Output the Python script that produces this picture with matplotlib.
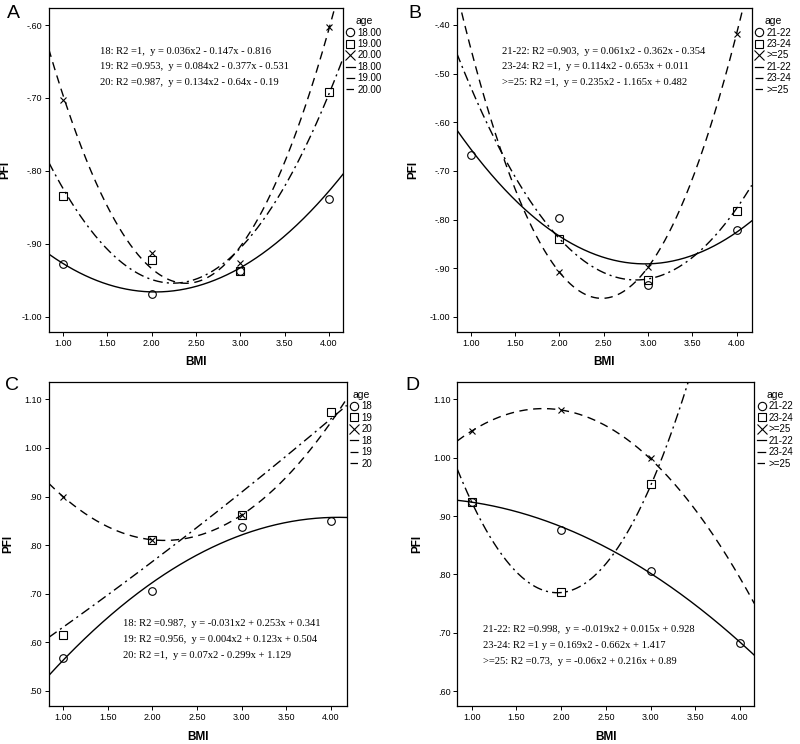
import numpy as np
import matplotlib
matplotlib.use("Agg")
import matplotlib.pyplot as plt
from matplotlib.lines import Line2D
from matplotlib.ticker import FuncFormatter

plt.rcParams['font.family'] = ['Liberation Sans', 'DejaVu Sans']

# ---------------- data ----------------
# Panel A (age 18 / 19 / 20)
a_groups = ["18.00", "19.00", "20.00"]
a_x = [[1, 2, 3, 4], [1, 2, 3, 4], [1, 2, 3, 4]]
a_y = [[-0.928, -0.969, -0.937, -0.838],
       [-0.835, -0.922, -0.938, -0.692],
       [-0.703, -0.913, -0.927, -0.603]]
a_coef = [[0.036, -0.147, -0.816],
          [0.084, -0.377, -0.531],
          [0.134, -0.640, -0.190]]
a_text = ["18: R2 =1,  y = 0.036x2 - 0.147x - 0.816",
          "19: R2 =0.953,  y = 0.084x2 - 0.377x - 0.531",
          "20: R2 =0.987,  y = 0.134x2 - 0.64x - 0.19"]

# Panel B (age 21-22 / 23-24 / >=25)
b_groups = ["21-22", "23-24", ">=25"]
b_x = [[1, 2, 3, 4], [2, 3, 4], [2, 3, 4]]
b_y = [[-0.668, -0.797, -0.935, -0.822],
       [-0.840, -0.925, -0.783],
       [-0.908, -0.898, -0.418]]
b_coef = [[0.061, -0.362, -0.354],
          [0.114, -0.653, 0.011],
          [0.235, -1.165, 0.482]]
b_text = ["21-22: R2 =0.903,  y = 0.061x2 - 0.362x - 0.354",
          "23-24: R2 =1,  y = 0.114x2 - 0.653x + 0.011",
          ">=25: R2 =1,  y = 0.235x2 - 1.165x + 0.482"]

# Panel C (age 18 / 19 / 20)
c_groups = ["18", "19", "20"]
c_x = [[1, 2, 3, 4], [1, 2, 3, 4], [1, 2, 3]]
c_y = [[0.568, 0.705, 0.838, 0.850],
       [0.615, 0.810, 0.862, 1.073],
       [0.900, 0.810, 0.862]]
c_coef = [[-0.031, 0.253, 0.341],
          [0.004, 0.123, 0.504],
          [0.070, -0.299, 1.129]]
c_text = ["18: R2 =0.987,  y = -0.031x2 + 0.253x + 0.341",
          "19: R2 =0.956,  y = 0.004x2 + 0.123x + 0.504",
          "20: R2 =1,  y = 0.07x2 - 0.299x + 1.129"]

# Panel D (age 21-22 / 23-24 / >=25)
d_groups = ["21-22", "23-24", ">=25"]
d_x = [[1, 2, 3, 4], [1, 2, 3], [1, 2, 3]]
d_y = [[0.925, 0.877, 0.806, 0.682],
       [0.924, 0.770, 0.955],
       [1.046, 1.082, 0.999]]
d_coef = [[-0.019, 0.015, 0.928],
          [0.169, -0.662, 1.417],
          [-0.060, 0.216, 0.890]]
d_text = ["21-22: R2 =0.998,  y = -0.019x2 + 0.015x + 0.928",
          "23-24: R2 =1 y = 0.169x2 - 0.662x + 1.417",
          ">=25: R2 =0.73,  y = -0.06x2 + 0.216x + 0.89"]

# ---------------- styling ----------------
markers = ["o", "s", "x"]
msizes = [5.5, 5.5, 4]
lstyles = ["-", (0, (7, 3, 1.5, 3)), (0, (6, 4))]

def spss_fmt(v, pos):
    s = f"{v:.2f}"
    if s.startswith("-0."):
        s = "-" + s[2:]
    elif s.startswith("0."):
        s = s[1:]
    return s

fig = plt.figure(figsize=(8, 7.44), dpi=100)
W, H = 800, 744

def mk_ax(l, t, r, b):
    return fig.add_axes([l / W, 1 - b / H, (r - l) / W, (b - t) / H])

panels = [
    dict(rect=(48.7, 8.3, 343, 332), xlim=(0.839, 4.16), ylim=(-1.021, -0.577),
         yticks=np.arange(-1.0, -0.55, 0.1), groups=a_groups, xs=a_x, ys=a_y,
         coef=a_coef, text=a_text, tpos=(0.174, [0.868, 0.819, 0.772]), label="A",
         lpos=(7, 14)),
    dict(rect=(456.7, 8.3, 751.7, 332), xlim=(0.842, 4.17), ylim=(-1.031, -0.366),
         yticks=np.arange(-1.0, -0.35, 0.1), groups=b_groups, xs=b_x, ys=b_y,
         coef=b_coef, text=b_text, tpos=(0.153, [0.868, 0.820, 0.771]), label="B",
         lpos=(408, 14)),
    dict(rect=(48.7, 382, 346.7, 706.3), xlim=(0.84, 4.176), ylim=(0.4685, 1.1356),
         yticks=np.arange(0.5, 1.15, 0.1), groups=c_groups, xs=c_x, ys=c_y,
         coef=c_coef, text=c_text, tpos=(0.248, [0.255, 0.207, 0.157]), label="C",
         lpos=(5, 386)),
    dict(rect=(457.3, 382, 754.3, 706.3), xlim=(0.839, 4.16), ylim=(0.574, 1.130),
         yticks=np.arange(0.6, 1.15, 0.1), groups=d_groups, xs=d_x, ys=d_y,
         coef=d_coef, text=d_text, tpos=(0.0875, [0.236, 0.188, 0.139]), label="D",
         lpos=(405, 386)),
]

for p in panels:
    ax = mk_ax(*p["rect"])
    xs_curve = np.linspace(p["xlim"][0], p["xlim"][1], 300)
    for i in range(3):
        ax.plot(p["xs"][i], p["ys"][i], linestyle="none", marker=markers[i],
                markersize=msizes[i], markerfacecolor="none", markeredgecolor="black",
                markeredgewidth=0.8)
        ax.plot(xs_curve, np.polyval(p["coef"][i], xs_curve), color="black",
                linewidth=1.0, linestyle=lstyles[i])
    ax.set_xlim(*p["xlim"])
    ax.set_ylim(*p["ylim"])
    ax.set_xticks(np.arange(1.0, 4.01, 0.5))
    ax.set_yticks(p["yticks"])
    ax.xaxis.set_major_formatter(FuncFormatter(lambda v, pos: f"{v:.2f}"))
    ax.yaxis.set_major_formatter(FuncFormatter(spss_fmt))
    ax.tick_params(direction="out", length=3, width=0.7, labelsize=6.5, pad=2)
    for sp in ax.spines.values():
        sp.set_linewidth(0.9)
    ax.set_xlabel("BMI", fontsize=8.5, fontweight="bold", labelpad=6)
    ax.set_ylabel("PFI", fontsize=8.5, fontweight="bold", labelpad=7)
    tx, tys = p["tpos"]
    for t, ty in zip(p["text"], tys):
        ax.text(tx, ty, t, transform=ax.transAxes, fontsize=7.6,
                family="Liberation Serif", va="center", ha="left")
    # legend
    handles = []
    labels = []
    for i in range(3):
        handles.append(Line2D([], [], linestyle="none", marker=markers[i],
                              markersize=[6, 6, 6.5][i], markerfacecolor="none",
                              markeredgecolor="black", markeredgewidth=0.8))
        labels.append(p["groups"][i])
    for i in range(3):
        handles.append(Line2D([], [], color="black", linewidth=0.9,
                              linestyle=lstyles[i]))
        labels.append(p["groups"][i])
    leg = ax.legend(handles, labels, title="age", loc="upper left",
                    bbox_to_anchor=(1.0, 0.985), frameon=False, fontsize=7,
                    title_fontsize=7.5, handlelength=0.9, handletextpad=0.3,
                    labelspacing=0.15, borderaxespad=0.2, borderpad=0.1)
    fig.text(p["lpos"][0] / W, 1 - p["lpos"][1] / H, p["label"], fontsize=14,
             va="center", ha="left")

fig.savefig("out.png", dpi=100)
